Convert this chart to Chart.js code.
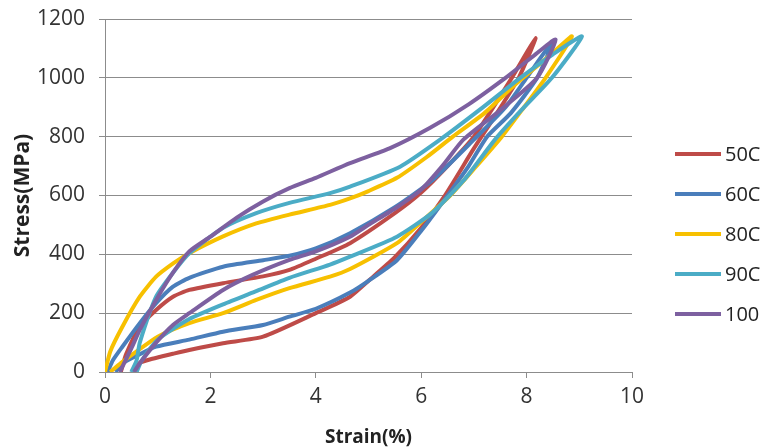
<!DOCTYPE html>
<html>
<head>
<meta charset="utf-8">
<title>Stress-strain loops</title>
<script src="https://cdn.jsdelivr.net/npm/chart.js@4.4.1/dist/chart.umd.min.js"></script>
<style>
  html, body { margin: 0; padding: 0; background: #fff; }
  #wrap { width: 763px; height: 447px; }
</style>
</head>
<body>
<div id="wrap"><canvas id="myChart" width="763" height="447"></canvas></div>
<script>
// legend labels (test temperature)
const labels = ['50C', '60C', '80C', '90C', '100'];
const colors = ['#BE4B48', '#4A7EBB', '#F7C000', '#4BACC6', '#7D60A0'];

// each loop: loading branch up to the peak, then unloading back down
const strain50 = [0.3, 0.4, 0.66, 0.97, 1.29, 1.6, 2.24, 3.0, 3.5, 4.0, 4.65, 5.5, 6.0, 6.5, 7.0, 7.72, 8.17,
                  7.85, 7.4, 7.0, 6.45, 6.0, 5.5, 5.0, 4.65, 4.0, 3.0, 2.24, 1.6, 1.29, 0.9, 0.66, 0.5];
const stress50 = [0, 60, 154, 211, 256, 279, 302, 325, 347, 385, 438, 540, 610, 700, 800, 1000, 1135,
                  1000, 870, 760, 600, 490, 390, 310, 256, 200, 120, 98, 75, 62, 45, 31, 0];

const strain60 = [0.05, 0.15, 0.33, 0.66, 0.97, 1.29, 1.6, 2.24, 3.0, 3.5, 4.0, 4.65, 5.5, 6.2, 7.0, 7.6, 8.0, 8.5,
                  8.2, 7.7, 7.25, 6.9, 6.5, 6.0, 5.54, 5.0, 4.65, 4.0, 3.5, 3.0, 2.24, 1.6, 0.97, 0.6, 0.34, 0.2];
const stress60 = [0, 40, 86, 166, 234, 290, 320, 358, 380, 395, 420, 472, 560, 650, 790, 900, 1000, 1125,
                  1000, 880, 800, 700, 600, 480, 380, 310, 270, 215, 188, 160, 137, 110, 86, 55, 30, 0];

const strain80 = [0, 0.1, 0.33, 0.66, 0.97, 1.3, 1.6, 2.23, 2.87, 3.5, 4.27, 4.65, 5.0, 5.54, 6.1, 6.6, 7.2, 7.8, 8.4, 8.86,
                  8.36, 7.95, 7.53, 7.0, 6.55, 6.0, 5.54, 4.65, 4.27, 3.5, 2.87, 2.24, 1.6, 1.0, 0.6, 0.3, 0.1];
const stress80 = [0, 70, 154, 256, 324, 370, 404, 460, 505, 535, 568, 590, 615, 660, 730, 800, 880, 980, 1070, 1141,
                  1000, 900, 800, 690, 600, 510, 438, 350, 324, 285, 245, 200, 166, 120, 70, 30, 0];

const strain90 = [0.5, 0.6, 0.66, 0.97, 1.3, 1.6, 2.24, 2.87, 3.5, 4.27, 4.65, 5.6, 6.36, 7.1, 7.88, 8.5, 9.05,
                  8.48, 7.9, 7.4, 6.8, 6.2, 5.54, 4.65, 4.27, 3.5, 2.87, 2.24, 1.6, 1.0, 0.7, 0.6];
const stress90 = [0, 40, 100, 256, 340, 404, 490, 540, 575, 608, 630, 698, 790, 890, 1000, 1080, 1141,
                  1000, 890, 790, 650, 540, 460, 392, 365, 320, 275, 230, 180, 110, 40, 0];

const strain100 = [0.28, 0.5, 0.66, 0.97, 1.3, 1.6, 2.0, 2.5, 3.0, 3.5, 4.0, 4.65, 5.4, 6.17, 6.9, 7.6, 8.1, 8.55,
                   8.2, 7.5, 6.8, 6.4, 6.0, 5.54, 5.0, 4.65, 4.0, 3.5, 2.8, 2.24, 1.6, 1.29, 0.97, 0.66, 0.55];
const stress100 = [0, 80, 143, 245, 340, 410, 460, 525, 580, 625, 660, 710, 760, 830, 910, 1000, 1070, 1130,
                   1000, 890, 790, 700, 620, 560, 500, 460, 410, 381, 330, 279, 200, 160, 100, 30, 0];

const strains = [strain50, strain60, strain80, strain90, strain100];
const stresses = [stress50, stress60, stress80, stress90, stress100];

const font = "'Open Sans', sans-serif";

// legend drawn at the right, like the excel one
const sideLegend = {
    id: 'sideLegend',
    afterDraw(chart) {
        const c = chart.ctx;
        const area = chart.chartArea;
        c.save();
        c.font = '20px ' + font;
        c.textBaseline = 'middle';
        c.fillStyle = '#222';
        chart.data.datasets.forEach((ds, i) => {
            const y = area.top + 135 + i * 40;
            const x = area.right + 43;
            c.strokeStyle = ds.borderColor;
            c.lineWidth = 4;
            c.beginPath();
            c.moveTo(x, y);
            c.lineTo(x + 46, y);
            c.stroke();
            c.fillText(ds.label, x + 50, y + 1);
        });
        c.restore();
    }
};

const whiteBg = {
    id: 'whiteBg',
    beforeDraw(chart) {
        const c = chart.ctx;
        c.save();
        c.fillStyle = '#fff';
        c.fillRect(0, 0, chart.width, chart.height);
        c.restore();
    }
};

const datasets = labels.map((lab, i) => ({
    label: lab,
    data: strains[i].map((s, j) => ({ x: s, y: stresses[i][j] })),
    borderColor: colors[i],
    backgroundColor: colors[i],
    borderWidth: 4,
    pointRadius: 0,
    showLine: true,
    tension: 0.2,
    fill: false,
    order: labels.length - i
}));

const ctx = document.getElementById('myChart').getContext('2d');
new Chart(ctx, {
    type: 'scatter',
    data: { datasets },
    options: {
        responsive: false,
        animation: false,
        layout: { padding: { top: 19, right: 131, left: 0, bottom: 0 } },
        plugins: {
            legend: { display: false },
            tooltip: { enabled: false }
        },
        scales: {
            x: {
                min: 0,
                max: 10,
                ticks: { stepSize: 2, color: '#333', font: { family: font, size: 21 }, padding: 6, maxRotation: 0, callback: v => v },
                grid: { drawOnChartArea: false, drawTicks: true, tickLength: 6, color: '#8c8c8c' },
                border: { color: '#8c8c8c' },
                title: { display: true, text: 'Strain(%)', color: '#222', font: { family: font, size: 19, weight: 'bold', lineHeight: 1 }, padding: 0 },
                afterFit(scale) { scale.height = 75; }
            },
            y: {
                min: 0,
                max: 1200,
                ticks: { stepSize: 200, color: '#333', font: { family: font, size: 21 }, padding: 14, callback: v => v },
                grid: { color: '#8c8c8c', tickLength: 6 },
                border: { color: '#8c8c8c' },
                title: { display: true, text: 'Stress(MPa)', color: '#222', font: { family: font, size: 21, weight: 'bold', lineHeight: 1.2 }, padding: { top: 10, bottom: 0 } },
                afterFit(scale) {
                    scale.width = 105;
                    scale.paddingTop = 0;
                    scale.paddingBottom = 0;
                }
            }
        }
    },
    plugins: [whiteBg, sideLegend]
});
</script>
</body>
</html>
